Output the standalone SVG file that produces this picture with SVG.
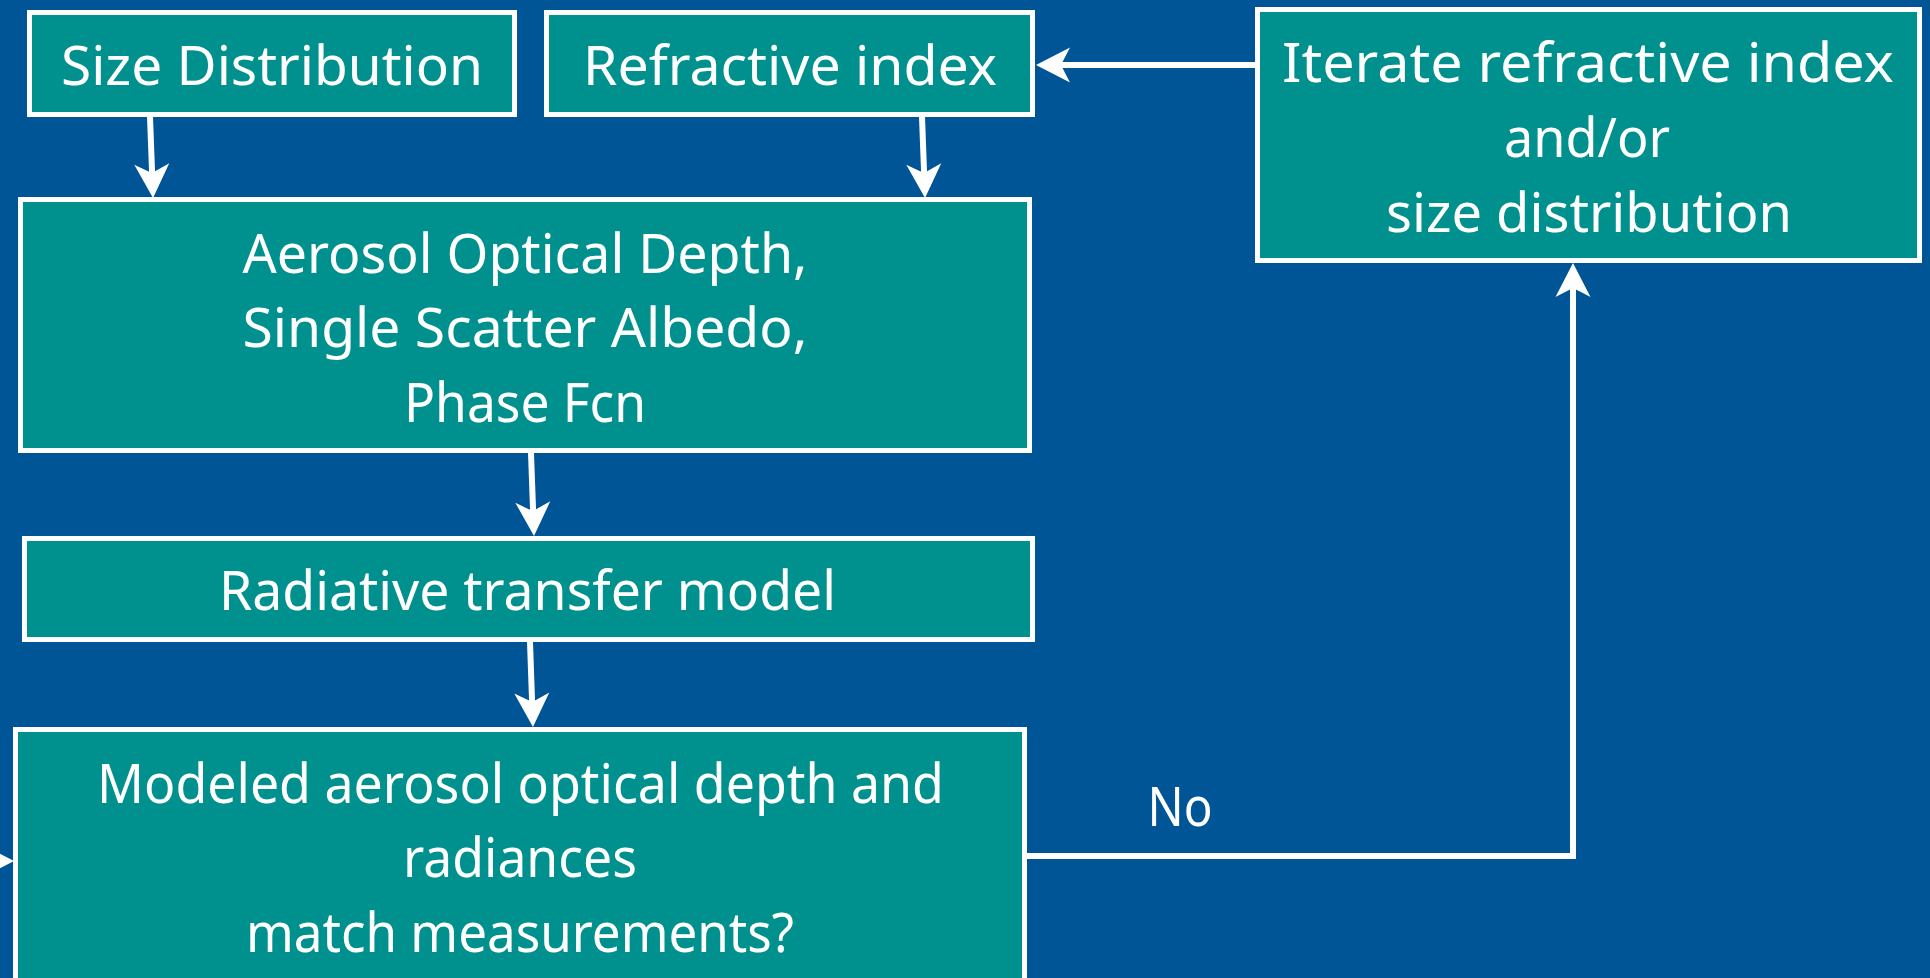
<svg xmlns="http://www.w3.org/2000/svg" width="1930" height="978" viewBox="0 0 1930 978">
  <style>
    .bg { fill: #005596; }
    .box { fill: #00918F; stroke: #FFFFFF; stroke-width: 5; }
    .lbl { fill: #FFFFFF; font-family: "Comic Sans MS", "Noto Sans", "DejaVu Sans", sans-serif; font-size: 55px; text-anchor: middle; }
    .wire { fill: none; stroke: #FFFFFF; stroke-width: 6; }
  </style>
  <defs>
    <!-- stealth arrowhead: the path ends at the notch, the tip sits 25px ahead -->
    <marker id="head" markerUnits="userSpaceOnUse" viewBox="-12 -20 40 40" markerWidth="40" markerHeight="40" refX="0" refY="0" orient="auto" overflow="visible">
      <path d="M25,0 L-9,-17.5 Q-3,-6 0,0 Q-3,6 -9,17.5 Z" fill="#FFFFFF"/>
    </marker>
  </defs>

  <rect class="bg" x="0" y="0" width="1930" height="978"/>

  <g id="connectors">
    <path class="wire" d="M150,117 L152.1,173" marker-end="url(#head)"/>
    <path class="wire" d="M922,117 L924.1,173" marker-end="url(#head)"/>
    <path class="wire" d="M531,453 L533.1,511" marker-end="url(#head)"/>
    <path class="wire" d="M530,642 L532.1,702" marker-end="url(#head)"/>
    <path class="wire" d="M1257,65 L1061,65" marker-end="url(#head)"/>
    <path class="wire" d="M1026,856 L1573,856 L1573,288" marker-end="url(#head)"/>
    <path class="wire" d="M-120,861 L-11,861" marker-end="url(#head)"/>
    <text class="lbl" x="1180" y="826" textLength="65" lengthAdjust="spacingAndGlyphs">No</text>
  </g>

  <g id="size-distribution">
    <rect class="box" x="29.5" y="12.5" width="485" height="102"/>
    <text class="lbl" x="272" y="85" textLength="422" lengthAdjust="spacingAndGlyphs">Size Distribution</text>
  </g>

  <g id="refractive-index">
    <rect class="box" x="546.5" y="12.5" width="486" height="102"/>
    <text class="lbl" x="790" y="85" textLength="414" lengthAdjust="spacingAndGlyphs">Refractive index</text>
  </g>

  <g id="iterate">
    <rect class="box" x="1257.5" y="9.5" width="662" height="251"/>
    <text class="lbl" x="1588" y="82" textLength="612" lengthAdjust="spacingAndGlyphs">Iterate refractive index</text>
    <text class="lbl" x="1587" y="157" textLength="166" lengthAdjust="spacingAndGlyphs">and/or</text>
    <text class="lbl" x="1589" y="232" textLength="406" lengthAdjust="spacingAndGlyphs">size distribution</text>
  </g>

  <g id="optical-properties">
    <rect class="box" x="20.5" y="199.5" width="1009" height="251"/>
    <text class="lbl" x="525" y="273" textLength="565" lengthAdjust="spacingAndGlyphs">Aerosol Optical Depth,</text>
    <text class="lbl" x="525" y="347" textLength="565" lengthAdjust="spacingAndGlyphs">Single Scatter Albedo,</text>
    <text class="lbl" x="525" y="422" textLength="242" lengthAdjust="spacingAndGlyphs">Phase Fcn</text>
  </g>

  <g id="radiative-transfer">
    <rect class="box" x="24.5" y="538.5" width="1008" height="101"/>
    <text class="lbl" x="527.5" y="610" textLength="617" lengthAdjust="spacingAndGlyphs">Radiative transfer model</text>
  </g>

  <g id="match-test">
    <rect class="box" x="15.5" y="729.5" width="1009" height="300"/>
    <text class="lbl" x="520.5" y="803" textLength="847" lengthAdjust="spacingAndGlyphs">Modeled aerosol optical depth and</text>
    <text class="lbl" x="520" y="877" textLength="234" lengthAdjust="spacingAndGlyphs">radiances</text>
    <text class="lbl" x="520" y="952" textLength="548" lengthAdjust="spacingAndGlyphs">match measurements?</text>
  </g>
</svg>
